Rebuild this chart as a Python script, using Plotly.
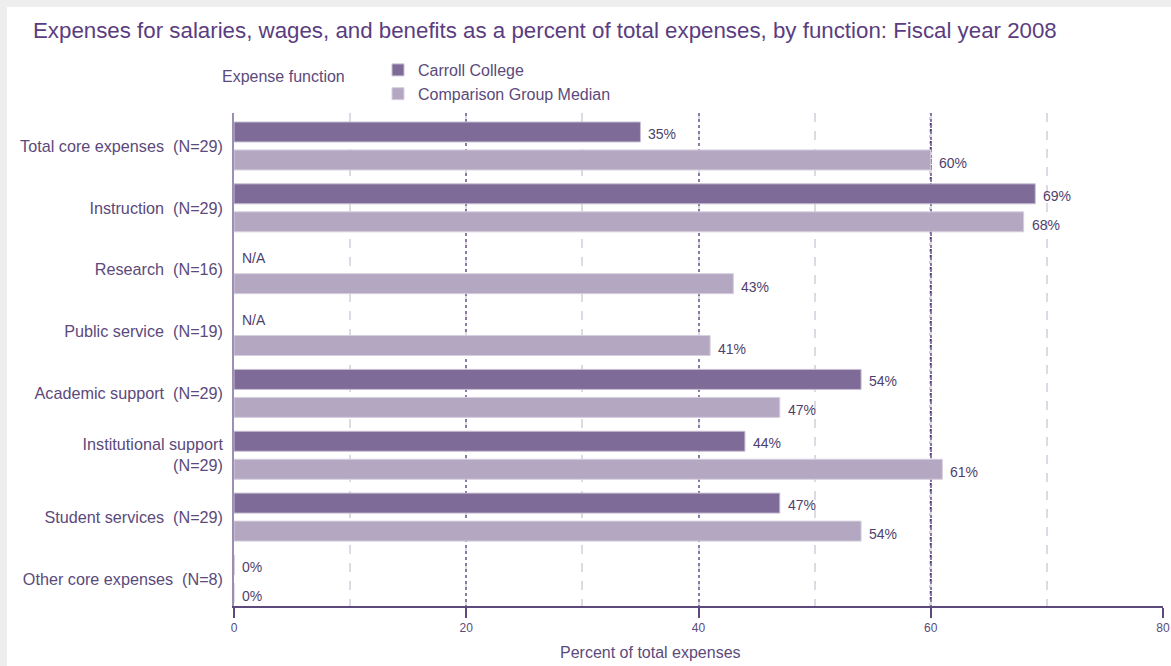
import plotly.graph_objects as go

categories = [
    "Total core expenses\u00a0\u00a0(N=29)",
    "Instruction\u00a0\u00a0(N=29)",
    "Research\u00a0\u00a0(N=16)",
    "Public service\u00a0\u00a0(N=19)",
    "Academic support\u00a0\u00a0(N=29)",
    "Institutional support<br>(N=29)",
    "Student services\u00a0\u00a0(N=29)",
    "Other core expenses\u00a0\u00a0(N=8)",
]
carroll = [35, 69, None, None, 54, 44, 47, 0]
comparison = [60, 68, 43, 41, 47, 61, 54, 0]
series_names = ["Carroll College", "Comparison Group Median"]
x_ticks = [0, 20, 40, 60, 80]

TXT = "#5b4a7b"
FONT = "Liberation Sans, Arial, sans-serif"
C1 = "#7f6b98"
C2 = "#b4a7c2"

W, H = 1171, 666
# plot area in screen pixels: x 234..1163, y 113..606
SL, SR, ST, SB = 234, 1163, 113, 606
L, R, T, B = SL, W - SR, ST, H - SB
pw, ph = SR - SL, SB - ST


def px_x(p):
    return (p - SL) / pw


def px_y(p):
    return (SB - p) / ph


fig = go.Figure()
fig.add_trace(go.Bar(
    y=categories, x=carroll, orientation="h", name=series_names[0],
    marker=dict(color=C1, line=dict(color="#c9bfd4", width=1)),
    legendgroup="a",
))
fig.add_trace(go.Bar(
    y=categories, x=comparison, orientation="h", name=series_names[1],
    marker=dict(color=C2, line=dict(color="#d6cfdf", width=1)),
    legendgroup="b",
))

annotations = []
for vals, shift in ((carroll, 12), (comparison, -17)):
    for cat, v in zip(categories, vals):
        annotations.append(dict(
            x=0 if v is None else v, y=cat, xref="x", yref="y",
            text="N/A" if v is None else f"{v}%",
            showarrow=False, xanchor="left", xshift=6, yshift=shift,
            font=dict(family=FONT, size=14, color="#4f3f6e"),
        ))

annotations += [
    dict(x=px_x(283), y=px_y(76), xref="paper", yref="paper",
         text="Expense function", showarrow=False, xanchor="center", yanchor="middle",
         font=dict(family=FONT, size=16, color=TXT)),
    dict(x=px_x(650), y=px_y(652), xref="paper", yref="paper",
         text="Percent of total expenses", showarrow=False, xanchor="center", yanchor="middle",
         font=dict(family=FONT, size=16, color=TXT)),
]

shapes = [
    # white card over the light grey page edge
    dict(type="rect", xref="paper", yref="paper", layer="below",
         x0=px_x(7), x1=px_x(W + 5), y0=px_y(H + 5), y1=px_y(7),
         fillcolor="white", line=dict(width=0)),
    # darker dotted line at 60
    dict(type="line", xref="x", yref="paper", layer="below",
         x0=60, x1=60, y0=0, y1=1, line=dict(color="#4b3a6e", width=2, dash="dot")),
]

fig.update_layout(
    width=W, height=H,
    margin=dict(l=L, r=R, t=T, b=B, autoexpand=False),
    paper_bgcolor="#eeeeee", plot_bgcolor="white",
    barmode="group", bargap=0.095, bargroupgap=0.286,
    title=dict(
        text="Expenses for salaries, wages, and benefits as a percent of total expenses, by function: Fiscal year 2008",
        x=33 / W, xref="container", xanchor="left",
        y=1 - 30 / H, yref="container", yanchor="middle",
        font=dict(family=FONT, size=22.3, color="#5a3d80"),
    ),
    legend=dict(
        x=px_x(378), y=px_y(53), xanchor="left", yanchor="top",
        font=dict(family=FONT, size=16, color=TXT),
        bgcolor="rgba(0,0,0,0)", tracegroupgap=1, traceorder="normal",
    ),
    xaxis=dict(
        range=[0, 80], tickvals=x_ticks, ticks="outside", ticklen=10, tickwidth=1.5,
        tickcolor=TXT, showline=True, linecolor=TXT, linewidth=1.5,
        showgrid=True, gridcolor="#8a7aa3", griddash="dot", gridwidth=1.5,
        minor=dict(dtick=10, showgrid=True, gridcolor="#dedae4", griddash="dash", gridwidth=1.5),
        tickfont=dict(family=FONT, size=12, color=TXT),
        zeroline=False, automargin=False,
    ),
    yaxis=dict(
        range=[7.437, -0.533], showline=True, linecolor="#9d8fb3", linewidth=1.5,
        tickfont=dict(family=FONT, size=16.2, color=TXT),
        ticklabelstandoff=6, showgrid=False, automargin=False,
    ),
    annotations=annotations,
    shapes=shapes,
)

fig.write_html(
    "out.html",
    config={"displayModeBar": False},
    post_script="document.body.style.margin='0';document.body.style.overflow='hidden';",
)
